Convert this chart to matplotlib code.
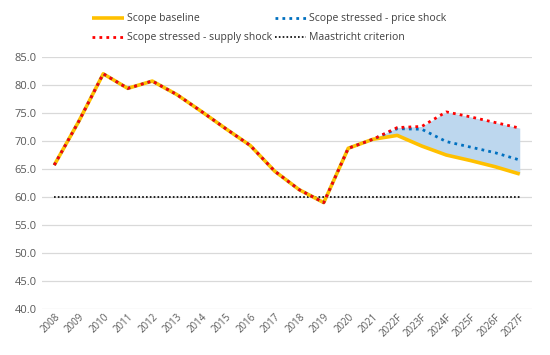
import matplotlib
matplotlib.use("Agg")
import matplotlib.pyplot as plt
import numpy as np

plt.rcParams['font.family'] = ['Open Sans', 'DejaVu Sans']

years = ["2008", "2009", "2010", "2011", "2012", "2013", "2014", "2015", "2016", "2017",
         "2018", "2019", "2020", "2021", "2022F", "2023F", "2024F", "2025F", "2026F", "2027F"]
history = [65.7, 73.5, 82.0, 79.4, 80.7, 78.3, 75.3, 72.2, 69.2, 64.6,
           61.3, 59.0, 68.7, 70.3]
baseline_fc = [71.0, 69.1, 67.5, 66.5, 65.4, 64.1]
price_fc = [72.2, 72.1, 69.9, 68.9, 67.9, 66.6]
supply_fc = [72.4, 72.6, 75.2, 74.3, 73.3, 72.3]
maastricht = 60.0

baseline = history + baseline_fc
price = history + price_fc
supply = history + supply_fc

fig = plt.figure(figsize=(5.5, 3.55), dpi=100)
ax = fig.add_axes([42/550, 1-309/355, 490/550, (309-57)/355])

x = np.arange(len(years))
start = len(history) - 1
ax.fill_between(x[start:], np.array(baseline[start:]), np.maximum(np.array(supply[start:]), np.array(price[start:])),
                color="#BDD7EE", linewidth=0, zorder=1)
l1, = ax.plot(x, baseline, color="#FFC000", lw=2.6, solid_capstyle='butt', zorder=3, label="Scope baseline")
l2, = ax.plot(x, price, color="#0070C0", lw=2.0, ls=(0, (1, 1.5)), zorder=4, label="Scope stressed - price shock")
l3, = ax.plot(x, supply, color="#FF0000", lw=2.0, ls=(0, (1, 1.5)), zorder=5, label="Scope stressed - supply shock")
l4, = ax.plot(x, [maastricht]*len(x), color="black", lw=1.2, ls=(0, (1, 1.3)), zorder=2, label="Maastricht criterion")

ax.set_xlim(-0.5, len(years)-0.5)
ax.set_ylim(40, 85)
ax.set_yticks(np.arange(40, 86, 5))
ax.set_yticklabels([f"{v:.1f}" for v in np.arange(40, 86, 5)])
ax.set_xticks(x)
ax.set_xticklabels(years, rotation=45, ha='right', rotation_mode='anchor')
ax.grid(axis='y', color="#D9D9D9", lw=0.9)
ax.set_axisbelow(True)
for s in ax.spines.values():
    s.set_visible(False)
ax.tick_params(length=0, labelsize=8, colors="#595959", pad=4)
ax.tick_params(axis='x', labelsize=7, pad=2)

fig.legend(handles=[l1, l3, l2, l4], loc='upper left', bbox_to_anchor=(83/550, 1-4/355),
           ncol=2, frameon=False, fontsize=7.5, handlelength=3.0, handletextpad=0.3,
           columnspacing=0.3, labelspacing=0.75, labelcolor="#404040")

fig.savefig("out.png", dpi=100)
